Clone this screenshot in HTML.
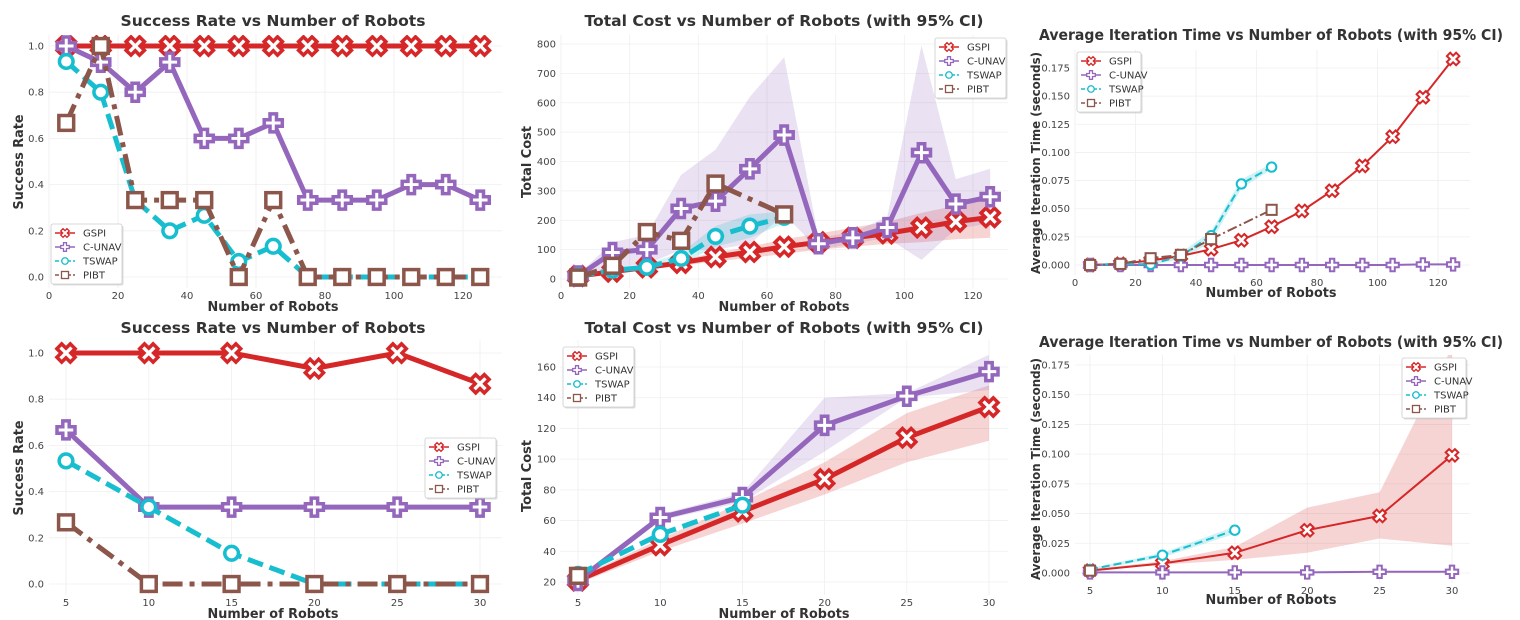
<!DOCTYPE html>
<html><head><meta charset="utf-8">
<style>
html,body{margin:0;padding:0;background:#fff;}
svg{display:block;font-family:"DejaVu Sans","Liberation Sans",sans-serif;}
</style></head>
<body>
<svg id="fig" width="1520" height="620" viewBox="0 0 1520 620"></svg>
<script>
// ---------- data ----------
const xTop = [5,15,25,35,45,55,65,75,85,95,105,115,125];
const xTopShort = [5,15,25,35,45,55,65];
const xTopPibt = [5,15,25,35,45,65];
const xBot = [5,10,15,20,25,30];
const xTicksTop = [0,20,40,60,80,100,120];
const xTicksBot = [5,10,15,20,25,30];

// Panel 1: success rate (large)
const p1Gspi = [1,1,1,1,1,1,1,1,1,1,1,1,1];
const p1Cunav = [1.0,0.93,0.8,0.93,0.6,0.6,0.667,0.333,0.333,0.333,0.4,0.4,0.333];
const p1Tswap = [0.933,0.8,0.333,0.2,0.267,0.067,0.133,0,0,0,0,0,0];
const p1Pibt = [0.667,1.0,0.333,0.333,0.333,0,0.333,0,0,0,0,0,0];
const p1YTicks = [0,0.2,0.4,0.6,0.8,1.0];

// Panel 2: total cost (large)
const p2Gspi = [10,25,40,55,75,92,110,125,140,155,175,195,210];
const p2GspiLo = [8,20,32,45,60,72,85,100,110,120,125,135,140];
const p2GspiHi = [12,30,48,65,90,110,135,155,175,195,225,250,270];
const p2Cunav = [10,90,100,240,265,375,490,120,140,175,430,255,280];
const p2CunavLo = [5,40,50,100,100,120,220,100,120,140,65,170,190];
const p2CunavHi = [15,125,150,355,440,620,755,140,160,210,795,340,375];
const p2Tswap = [10,30,40,70,145,180,210];
const p2TswapLo = [8,25,30,50,110,140,190];
const p2TswapHi = [12,35,50,90,180,220,230];
const p2Pibt = [5,45,160,130,325,220];
const p2YTicks = [0,100,200,300,400,500,600,700,800];

// Panel 3: iteration time (large)
const p3Gspi = [0,0.001,0.004,0.008,0.014,0.022,0.034,0.048,0.066,0.088,0.114,0.149,0.183];
const p3Cunav = [0,0,0,0,0,0,0,0,0,0,0,0.0005,0.0005];
const p3Tswap = [0,0.001,0.0005,0.008,0.026,0.072,0.087];
const p3TswapLo = [0,0.0005,0,0.005,0.02,0.068,0.085];
const p3TswapHi = [0,0.0015,0.002,0.011,0.03,0.076,0.09];
const p3Pibt = [0,0.001,0.006,0.009,0.023,0.049];
const p3YTicks = [0,0.025,0.05,0.075,0.1,0.125,0.15,0.175];
const p3YLabels = ["0.000","0.025","0.050","0.075","0.100","0.125","0.150","0.175"];

// Panel 4: success rate (small)
const p4Gspi = [1,1,1,0.933,1,0.867];
const p4Cunav = [0.667,0.333,0.333,0.333,0.333,0.333];
const p4Tswap = [0.533,0.333,0.133,0,0,0];
const p4Pibt = [0.267,0,0,0,0,0];

// Panel 5: total cost (small)
const p5Gspi = [21,44,66,87,114,134];
const p5GspiLo = [19,40,58,77,98,112];
const p5GspiHi = [23,48,72,98,130,148];
const p5Cunav = [21,62,75,122,141,157];
const p5CunavLo = [20,60,72,105,140,145];
const p5CunavHi = [23,64,78,140,143,168];
const p5Tswap = [25,51,70];
const p5Pibt = [24];
const p5YTicks = [20,40,60,80,100,120,140,160];

// Panel 6: iteration time (small)
const p6Gspi = [0.002,0.008,0.017,0.036,0.048,0.099];
const p6GspiLo = [0.002,0.007,0.011,0.017,0.029,0.023];
const p6GspiHi = [0.003,0.010,0.022,0.055,0.068,0.19];
const p6Cunav = [0.0005,0.0005,0.0005,0.0005,0.001,0.001];
const p6Tswap = [0.003,0.015,0.036];
const p6TswapLo = [0.002,0.013,0.033];
const p6TswapHi = [0.004,0.017,0.039];
const p6Pibt = [0.002];

// ---------- drawing ----------
const NS = "http://www.w3.org/2000/svg";
const svg = document.getElementById('fig');
const C = {red:"#d62728", purple:"#9467bd", cyan:"#17becf", brown:"#8c564b"};
function mk(tag, attrs, parent){
  const e = document.createElementNS(NS, tag);
  for (const k in attrs) e.setAttribute(k, attrs[k]);
  (parent||svg).appendChild(e);
  return e;
}
function crossPts(cx, cy, r, rot){
  const a = 0.36;
  const base = [[-a,-1],[a,-1],[a,-a],[1,-a],[1,a],[a,a],[a,1],[-a,1],[-a,a],[-1,a],[-1,-a],[-a,-a]];
  const c = Math.cos(rot), s = Math.sin(rot);
  return base.map(p => (cx + r*(p[0]*c - p[1]*s)).toFixed(1) + "," + (cy + r*(p[0]*s + p[1]*c)).toFixed(1)).join(" ");
}
function marker(g, type, cx, cy, r, color, sw){
  let m;
  if (type === 'x') m = mk('polygon', {points: crossPts(cx, cy, r, Math.PI/4)}, g);
  else if (type === 'p') m = mk('polygon', {points: crossPts(cx, cy, r*0.95, 0)}, g);
  else if (type === 'o') m = mk('circle', {cx: cx, cy: cy, r: r*0.72}, g);
  else m = mk('rect', {x: cx - r*0.78, y: cy - r*0.78, width: r*1.56, height: r*1.56}, g);
  m.setAttribute('fill', '#fff');
  m.setAttribute('stroke', color);
  m.setAttribute('stroke-width', sw);
  m.setAttribute('stroke-linejoin', 'miter');
  
  
  return m;
}

function panel(cfg){
  const g = mk('g', {});
  
  
  const sx = v => cfg.x0 + (v - cfg.xv0) * (cfg.x1 - cfg.x0) / (cfg.xv1 - cfg.xv0);
  const sy = v => cfg.y0 + (v - cfg.yv0) * (cfg.y1 - cfg.y0) / (cfg.yv1 - cfg.yv0);
  const clipId = cfg.name + '-clip';
  const defs = mk('defs', {}, g);
  const cp = mk('clipPath', {id: clipId}, defs);
  mk('rect', {x: cfg.L, y: cfg.T, width: cfg.R - cfg.L, height: cfg.B - cfg.T}, cp);
  const grid = mk('g', {stroke: '#efefef', 'stroke-width': 0.8}, g);
  
  
  cfg.xticks.forEach(t => mk('line', {x1: sx(t), x2: sx(t), y1: cfg.T, y2: cfg.B}, grid));
  cfg.yticks.forEach(t => mk('line', {x1: cfg.L, x2: cfg.R, y1: sy(t), y2: sy(t)}, grid));
  cfg.xticks.forEach(t => {
    const tx = mk('text', {x: sx(t), y: cfg.B + 11, 'text-anchor': 'middle', 'font-size': 10, fill: '#444'}, g);
    tx.textContent = String(t);
    
    
  });
  cfg.yticks.forEach((t, i) => {
    const ty = mk('text', {x: cfg.ytx, y: sy(t) + 3.5, 'text-anchor': 'end', 'font-size': 10, fill: '#444'}, g);
    ty.textContent = cfg.ylabels ? cfg.ylabels[i] : (cfg.yfmt ? t.toFixed(cfg.yfmt) : String(t));
    
    
  });
  const title = mk('text', {x: cfg.titleX, y: cfg.titleY, 'text-anchor': 'middle', 'font-size': 15, 'font-weight': 'bold', fill: '#333', textLength: cfg.titleW, lengthAdjust: 'spacingAndGlyphs'}, g);
  title.textContent = cfg.title;
  
  
  const xl = mk('text', {x: cfg.xlX, y: cfg.xlY, 'text-anchor': 'middle', 'font-size': 13, 'font-weight': 'bold', fill: '#333', textLength: 131, lengthAdjust: 'spacingAndGlyphs'}, g);
  xl.textContent = 'Number of Robots';
  
  
  const yl = mk('text', {x: 0, y: 0, 'text-anchor': 'middle', 'font-size': cfg.ylFs || 13, 'font-weight': 'bold', fill: '#333', transform: `translate(${cfg.ylX},${cfg.ylY}) rotate(-90)`, textLength: cfg.ylW, lengthAdjust: 'spacingAndGlyphs'}, g);
  yl.textContent = cfg.ylabel;
  
  

  const plot = mk('g', {'clip-path': `url(#${clipId})`}, g);
  (cfg.bands || []).forEach(b => {
    let d = 'M' + b.xs.map((x, i) => sx(x).toFixed(1) + ',' + sy(b.hi[i]).toFixed(1)).join('L');
    for (let i = b.xs.length - 1; i >= 0; i--) d += 'L' + sx(b.xs[i]).toFixed(1) + ',' + sy(b.lo[i]).toFixed(1);
    const p = mk('path', {d: d + 'Z', fill: b.color, 'fill-opacity': 0.2, stroke: 'none'}, plot);
    
    
  });
  cfg.series.forEach(s => {
    const sg = mk('g', {}, plot);
    
    
    if (s.xs.length > 1) {
      const pts = s.xs.map((x, i) => sx(x).toFixed(1) + ',' + sy(s.ys[i]).toFixed(1)).join(' ');
      const pl = mk('polyline', {points: pts, fill: 'none', stroke: s.color, 'stroke-width': cfg.lw, 'stroke-linejoin': 'round'}, sg);
      if (s.dash) pl.setAttribute('stroke-dasharray', s.dash);
      
      
    }
    s.xs.forEach((x, i) => marker(sg, s.m, sx(x), sy(s.ys[i]), cfg.mr, s.color, cfg.msw));
  });
  const lg = mk('g', {}, g);
  
  
  const lw = cfg.legW, lh = 60;
  mk('rect', {x: cfg.legX + 1.5, y: cfg.legY + 1.5, width: lw, height: lh, fill: '#bbb', 'fill-opacity': 0.5, rx: 2}, lg);
  mk('rect', {x: cfg.legX, y: cfg.legY, width: lw, height: lh, fill: '#fff', stroke: '#ccc', 'stroke-width': 0.8, rx: 2}, lg);
  cfg.series.forEach((s, i) => {
    const ey = cfg.legY + 9 + i * 14;
    const eg = mk('g', {}, lg);
    
    
    const ln = mk('line', {x1: cfg.legX + 4, x2: cfg.legX + 24, y1: ey, y2: ey, stroke: s.color, 'stroke-width': 1.5}, eg);
    if (s.dash) ln.setAttribute('stroke-dasharray', '4,2');
    marker(eg, s.m, cfg.legX + 14, ey, 4.5, s.color, 1.3);
    const t = mk('text', {x: cfg.legX + 32, y: ey + 3.5, 'font-size': 10, fill: '#333'}, eg);
    t.textContent = s.label;
  });
}

function seriesSet(g, c, t, p, xg, xc, xt, xp, thick){
  return [
    {label: 'GSPI', color: C.red, m: 'x', xs: xg, ys: g},
    {label: 'C-UNAV', color: C.purple, m: 'p', xs: xc, ys: c},
    {label: 'TSWAP', color: C.cyan, m: 'o', xs: xt, ys: t, dash: thick ? '16,7' : '8,4'},
    {label: 'PIBT', color: C.brown, m: 's', xs: xp, ys: p, dash: thick ? '20,7,5,7' : '10,3,2,3'}
  ];
}

panel({name: 'success-rate-top', x0: 49, x1: 463, xv0: 0, xv1: 120, y0: 277, y1: 46, yv0: 0, yv1: 1,
  L: 49, R: 502, T: 35, B: 288, xticks: xTicksTop, yticks: p1YTicks, yfmt: 1, ytx: 44,
  title: 'Success Rate vs Number of Robots', titleX: 273, titleY: 26, titleW: 305,
  xlX: 273, xlY: 311, ylabel: 'Success Rate', ylX: 23, ylY: 162, ylW: 95,
  lw: 5, mr: 9.5, msw: 3.5, legX: 51, legY: 224, legW: 71,
  series: seriesSet(p1Gspi, p1Cunav, p1Tswap, p1Pibt, xTop, xTop, xTop, xTop, true)});

panel({name: 'total-cost-top', x0: 561, x1: 973, xv0: 0, xv1: 120, y0: 279, y1: 44, yv0: 0, yv1: 800,
  L: 560, R: 1008, T: 35, B: 288, xticks: xTicksTop, yticks: p2YTicks, ytx: 556,
  title: 'Total Cost vs Number of Robots (with 95% CI)', titleX: 784, titleY: 26, titleW: 399,
  xlX: 784, xlY: 311, ylabel: 'Total Cost', ylX: 531, ylY: 162, ylW: 72,
  lw: 5, mr: 9.5, msw: 3.5, legX: 935, legY: 38, legW: 71,
  bands: [
    {xs: xTop, lo: p2GspiLo, hi: p2GspiHi, color: C.red},
    {xs: xTop, lo: p2CunavLo, hi: p2CunavHi, color: C.purple},
    {xs: xTopShort, lo: p2TswapLo, hi: p2TswapHi, color: C.cyan}],
  series: seriesSet(p2Gspi, p2Cunav, p2Tswap, p2Pibt, xTop, xTop, xTopShort, xTopPibt, true)});

panel({name: 'iteration-time-top', x0: 1075, x1: 1438, xv0: 0, xv1: 120, y0: 265, y1: 68, yv0: 0, yv1: 0.175,
  L: 1075, R: 1470, T: 50, B: 275, xticks: xTicksTop, yticks: p3YTicks, ylabels: p3YLabels, ytx: 1070,
  title: 'Average Iteration Time vs Number of Robots (with 95% CI)', titleX: 1271, titleY: 40, titleW: 464,
  xlX: 1271, xlY: 297, ylabel: 'Average Iteration Time (seconds)', ylX: 1040, ylY: 163, ylW: 222, ylFs: 12,
  lw: 2, mr: 6.5, msw: 2, legX: 1077, legY: 52, legW: 64,
  bands: [{xs: xTopShort, lo: p3TswapLo, hi: p3TswapHi, color: C.cyan}],
  series: seriesSet(p3Gspi, p3Cunav, p3Tswap, p3Pibt, xTop, xTop, xTopShort, xTopPibt, false)});

panel({name: 'success-rate-bottom', x0: 66, x1: 480, xv0: 5, xv1: 30, y0: 584, y1: 353, yv0: 0, yv1: 1,
  L: 49, R: 502, T: 340, B: 595, xticks: xTicksBot, yticks: p1YTicks, yfmt: 1, ytx: 44,
  title: 'Success Rate vs Number of Robots', titleX: 273, titleY: 333, titleW: 305,
  xlX: 273, xlY: 618, ylabel: 'Success Rate', ylX: 23, ylY: 468, ylW: 95,
  lw: 5, mr: 9.5, msw: 3.5, legX: 425, legY: 438, legW: 71,
  series: seriesSet(p4Gspi, p4Cunav, p4Tswap, p4Pibt, xBot, xBot, xBot, xBot, true)});

panel({name: 'total-cost-bottom', x0: 578, x1: 989, xv0: 5, xv1: 30, y0: 582, y1: 367, yv0: 20, yv1: 160,
  L: 560, R: 1008, T: 340, B: 595, xticks: xTicksBot, yticks: p5YTicks, ytx: 556,
  title: 'Total Cost vs Number of Robots (with 95% CI)', titleX: 784, titleY: 333, titleW: 399,
  xlX: 784, xlY: 618, ylabel: 'Total Cost', ylX: 531, ylY: 476, ylW: 72,
  lw: 5, mr: 9.5, msw: 3.5, legX: 563, legY: 347, legW: 71,
  bands: [
    {xs: xBot, lo: p5GspiLo, hi: p5GspiHi, color: C.red},
    {xs: xBot, lo: p5CunavLo, hi: p5CunavHi, color: C.purple}],
  series: seriesSet(p5Gspi, p5Cunav, p5Tswap, p5Pibt, xBot, xBot, xBot.slice(0, 3), xBot.slice(0, 1), true)});

panel({name: 'iteration-time-bottom', x0: 1090, x1: 1452, xv0: 5, xv1: 30, y0: 573, y1: 365, yv0: 0, yv1: 0.175,
  L: 1075, R: 1470, T: 355, B: 583, xticks: xTicksBot, yticks: p3YTicks, ylabels: p3YLabels, ytx: 1070,
  title: 'Average Iteration Time vs Number of Robots (with 95% CI)', titleX: 1271, titleY: 347, titleW: 464,
  xlX: 1271, xlY: 604, ylabel: 'Average Iteration Time (seconds)', ylX: 1040, ylY: 469, ylW: 222, ylFs: 12,
  lw: 2, mr: 6.5, msw: 2, legX: 1402, legY: 358, legW: 64,
  bands: [
    {xs: xBot, lo: p6GspiLo, hi: p6GspiHi, color: C.red},
    {xs: xBot.slice(0, 3), lo: p6TswapLo, hi: p6TswapHi, color: C.cyan}],
  series: seriesSet(p6Gspi, p6Cunav, p6Tswap, p6Pibt, xBot, xBot, xBot.slice(0, 3), xBot.slice(0, 1), false)});
</script>
</body></html>
